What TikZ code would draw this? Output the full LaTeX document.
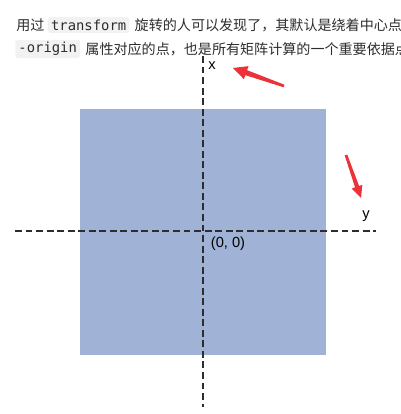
\documentclass[tikz,border=0pt]{standalone}
\usepackage{fontspec}
\setmainfont{Liberation Sans}
\newfontfamily\cjkfont{Noto Sans CJK SC}
\newfontfamily\codefont{DejaVu Sans Mono}
\usetikzlibrary{positioning, calc}
\definecolor{ink}{RGB}{45, 45, 45}
\definecolor{codebg}{RGB}{242, 242, 242}
\definecolor{plane}{RGB}{160, 178, 214}
\definecolor{marker}{RGB}{236, 50, 56}

% red hand-drawn pointer: tip, tail, head length, head half width
\newcommand{\markarrow}[4]{%
  \coordinate (mk base) at ($(#1)!#3!(#2)$);
  \fill[marker] (#1) -- ($(mk base)!#4!90:(#2)$) -- ($(mk base)!0.38*#4!90:(#2)$)
    -- ($(#2)!1pt!-90:(#1)$) -- ($(#2)!1pt!90:(#1)$)
    -- ($(mk base)!0.38*#4!-90:(#2)$) -- ($(mk base)!#4!-90:(#2)$) -- cycle;
}

\begin{document}
\begin{tikzpicture}[
    x=0.75pt, y=-0.75pt,
    font=\fontsize{10.5}{12}\selectfont,
    prose/.style={inner sep=0pt, text=ink, font=\fontsize{10.55}{12}\selectfont\cjkfont},
    codespan/.style={fill=codebg, rounded corners=2pt, inner xsep=2.4pt, inner ysep=1.8pt,
      text=ink, font=\fontsize{10.4}{12}\selectfont\codefont},
    axisline/.style={draw=ink, line width=0.8pt, dash pattern=on 5.2pt off 2.7pt},
    axislabel/.style={inner sep=0pt, text=black, font=\fontsize{11}{12}\selectfont}
  ]
  \useasboundingbox (0,0) rectangle (400,414);
  \clip (0,0) rectangle (400,414);

  % Text above the figure
  \node[prose, anchor=west] (l1a) at (16,25) {用过};
  \node[codespan, right=2.2pt of l1a] (l1b) {transform};
  \node[prose, right=3.6pt of l1b] (l1c) {旋转的人可以发现了，其默认是绕着中心点};
  \node[codespan, anchor=west] (l2a) at (15,49) {-origin};
  \node[prose, right=3.6pt of l2a] (l2b) {属性对应的点，也是所有矩阵计算的一个重要依据点};

  % Plane
  \fill[plane] (80,109) rectangle (326,355);

  % Axes
  \coordinate (xtop) at (203,56);
  \coordinate (xbot) at (203,407);
  \coordinate (yleft) at (15,231);
  \coordinate (yright) at (376,231);
  \draw[axisline] (xtop) -- (xbot);
  \draw[axisline] (yleft) -- (yright);
  \node[axislabel] (xlab) at (212,66) {x};
  \node[axislabel] (ylab) at (366,216) {y};
  \node[axislabel] (origin) at (228,244) {(0, 0)};

  % Pointers
  \coordinate (xmark tip) at (233,68);
  \coordinate (xmark tail) at (284,86);
  \coordinate (ymark tip) at (361,198);
  \coordinate (ymark tail) at (346,155);
  \markarrow{xmark tip}{xmark tail}{10.5pt}{5.2pt}
  \markarrow{ymark tip}{ymark tail}{9pt}{4.2pt}
\end{tikzpicture}
\end{document}
